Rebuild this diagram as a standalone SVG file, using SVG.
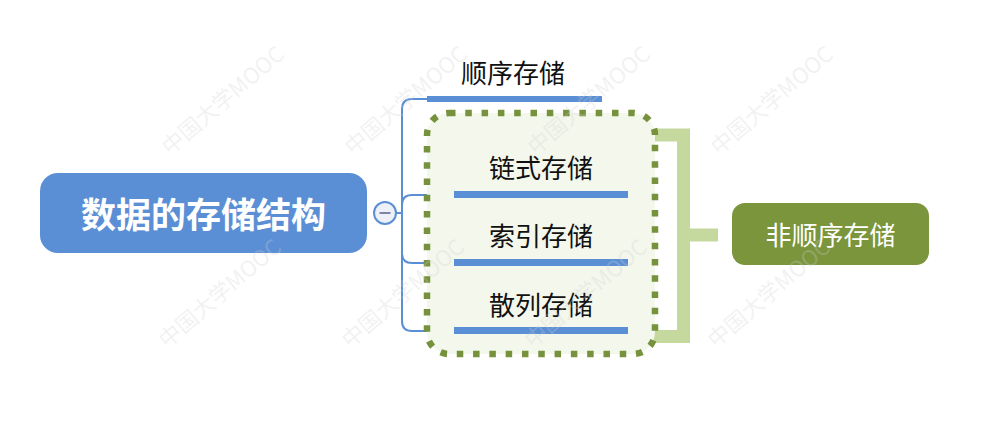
<svg xmlns="http://www.w3.org/2000/svg" width="1000" height="421" viewBox="0 0 1000 421">
<defs>
<style>
.lbl{font-family:"Noto Sans CJK SC","Noto Sans",sans-serif;font-size:26px;fill:#111111;text-anchor:middle}
.wlbl{font-family:"Noto Sans CJK SC","Noto Sans",sans-serif;fill:#ffffff;text-anchor:middle}
.ul{fill:#5b8fd5}
.conn{fill:none;stroke:#5b8fd5;stroke-width:2}
.wm{font-family:"Noto Sans CJK SC","Noto Sans",sans-serif;font-size:22px;fill:#d0d0d0;fill-opacity:0.28}
</style>
</defs>
<rect width="1000" height="421" fill="#ffffff"/>

<g id="connectors">
<path class="conn" d="M396,213 H402"/>
<path class="conn" d="M402,213 V109 Q402,99 412,99 H430"/>
<path class="conn" d="M402,213 V205 Q402,195 412,195 H456"/>
<path class="conn" d="M402,213 V253 Q402,263 412,263 H456"/>
<path class="conn" d="M402,213 V321 Q402,331 412,331 H456"/>
</g>

<g id="bracket">
<path d="M650,135 H683.5 V336.5 H650 M683.5,235 H718" fill="none" stroke="#c5d89d" stroke-width="13"/>
</g>

<g id="group-box">
<rect x="427" y="113" width="228" height="241" rx="22" fill="#f3f7ec" stroke="#76923c" stroke-width="6.5" stroke-dasharray="6.5 9.8"/>
</g>

<g id="root">
<rect x="40" y="173" width="327" height="80" rx="18" fill="#5b8fd5"/>
<text class="wlbl" x="203.5" y="228" font-size="35" font-weight="bold">数据的存储结构</text>
</g>

<g id="collapse">
<circle cx="385" cy="213" r="11" fill="#eef0f8" stroke="#5b8fd5" stroke-width="2"/>
<line x1="379.5" y1="213" x2="390.5" y2="213" stroke="#7c84a8" stroke-width="2"/>
</g>

<g id="n-seq">
<text class="lbl" x="513" y="83">顺序存储</text>
<rect class="ul" x="427" y="96" width="175" height="6"/>
</g>

<g id="n-link">
<text class="lbl" x="541" y="178">链式存储</text>
<rect class="ul" x="454" y="191" width="174" height="7"/>
</g>

<g id="n-index">
<text class="lbl" x="541" y="246">索引存储</text>
<rect class="ul" x="454" y="259" width="174" height="7"/>
</g>

<g id="n-hash">
<text class="lbl" x="541" y="315">散列存储</text>
<rect class="ul" x="454" y="327" width="174" height="7"/>
</g>

<g id="n-nonseq">
<rect x="732" y="203" width="197" height="62" rx="13" fill="#7a953c"/>
<text class="wlbl" x="830.5" y="245" font-size="26">非顺序存储</text>
</g>

<g id="watermark">
<text class="wm" transform="translate(170,156) rotate(-40.6)">中国大学MOOC</text>
<text class="wm" transform="translate(353,156) rotate(-40.6)">中国大学MOOC</text>
<text class="wm" transform="translate(536,156) rotate(-40.6)">中国大学MOOC</text>
<text class="wm" transform="translate(719,156) rotate(-40.6)">中国大学MOOC</text>
<text class="wm" transform="translate(167,349) rotate(-40.6)">中国大学MOOC</text>
<text class="wm" transform="translate(350,349) rotate(-40.6)">中国大学MOOC</text>
<text class="wm" transform="translate(533,349) rotate(-40.6)">中国大学MOOC</text>
<text class="wm" transform="translate(716,349) rotate(-40.6)">中国大学MOOC</text>
</g>
</svg>
